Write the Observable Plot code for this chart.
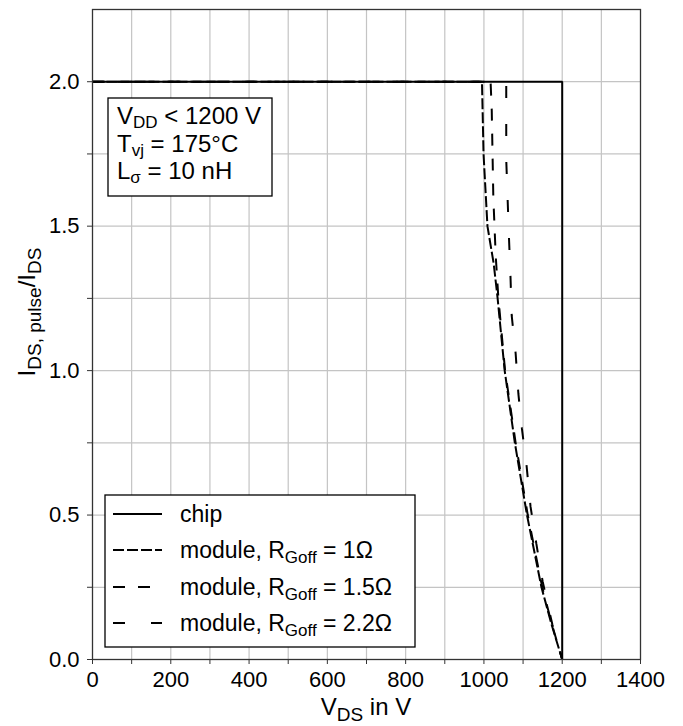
<!DOCTYPE html>
<html><head><meta charset="utf-8">
<script src="https://cdn.jsdelivr.net/npm/d3@7"></script>
<script src="https://cdn.jsdelivr.net/npm/@observablehq/plot@0.6"></script>
<style>
body{margin:0;background:#fff}
svg{font-family:"Liberation Sans",Arial,sans-serif}
</style>
</head><body><div id="chart"></div>
<script>
// ---- data ----
const chipV = [0, 1200, 1200];
const chipI = [2.0, 2.0, 0.0];

const r10V = [0, 995, 999, 1009, 1025, 1035, 1053, 1079, 1110, 1147, 1173, 1200];
const r10I = [2.0, 2.0, 1.75, 1.5, 1.37, 1.25, 1.0, 0.75, 0.5, 0.25, 0.12, 0.0];

const r15V = [0, 1017, 1020, 1022, 1024, 1030, 1037, 1054, 1081, 1112, 1149, 1174, 1200];
const r15I = [2.0, 2.0, 1.9, 1.75, 1.6, 1.4, 1.25, 1.0, 0.75, 0.5, 0.25, 0.12, 0.0];

const r22V = [0, 1057, 1057, 1064, 1068, 1071, 1081, 1088, 1097, 1109, 1119, 1134, 1150, 1175, 1200];
const r22I = [2.0, 2.0, 1.73, 1.46, 1.32, 1.19, 1.06, 0.92, 0.8, 0.67, 0.53, 0.4, 0.27, 0.12, 0.0];

const xMajorTicks = [0, 200, 400, 600, 800, 1000, 1200, 1400];
const xMinorTicks = [100, 300, 500, 700, 900, 1100, 1300];
const yMajorTicks = [0, 0.5, 1.0, 1.5, 2.0];
const yMinorTicks = [0.25, 0.75, 1.25, 1.75];
const xGrid = [100, 200, 300, 400, 500, 600, 700, 800, 900, 1000, 1100, 1200, 1300];
const yGrid = [0.25, 0.5, 0.75, 1.0, 1.25, 1.5, 1.75, 2.0];

const seriesKeys = ["chip", "r10", "r15", "r22"];
const legendLabels = {
  chip: ["chip", "", ""],
  r10: ["module, R", "Goff", " = 1Ω"],
  r15: ["module, R", "Goff", " = 1.5Ω"],
  r22: ["module, R", "Goff", " = 2.2Ω"]
};
const noteLines = [
  ["V", "DD", " < 1200 V"],
  ["T", "vj", " = 175°C"],
  ["L", "σ", " = 10 nH"]
];
const xLabel = ["V", "DS", " in V"];
const yLabel = ["I", "DS, pulse", "/I", "DS"];

// ---- styles ----
const dashes = {chip: null, r10: "11,3", r15: "12,13", r22: "12,26"};
const rows = (vs, is) => vs.map((v, k) => ({v, i: is[k]}));
const seriesData = {chip: rows(chipV, chipI), r10: rows(r10V, r10I), r15: rows(r15V, r15I), r22: rows(r22V, r22I)};

const W = 683, H = 726;
const gridStyle = {stroke: "#c4c4c4", strokeOpacity: 1, strokeWidth: 1.2};

const plot = Plot.plot({
  width: W, height: H,
  marginLeft: 92, marginRight: 43, marginTop: 9, marginBottom: 67,
  x: {domain: [0, 1400]},
  y: {domain: [0, 2.25]},
  style: {fontFamily: "Liberation Sans, Arial, sans-serif", fontSize: "22px", color: "#000", background: "#fff"},
  marks: [
    Plot.gridX(xGrid, gridStyle),
    Plot.gridY(yGrid, gridStyle),
    Plot.axisX(xMajorTicks, {tickSize: 5, tickPadding: 7, tickFormat: d => String(d), label: null, fontSize: 22, stroke: "#333"}),
    Plot.axisX(xMinorTicks, {tickSize: 5, tickFormat: () => "", label: null, stroke: "#333"}),
    Plot.axisY(yMajorTicks, {tickSize: 5, tickPadding: 8, tickFormat: d3.format(".1f"), label: null, fontSize: 22, stroke: "#333"}),
    Plot.axisY(yMinorTicks, {tickSize: 5, tickFormat: () => "", label: null, stroke: "#333"}),
    ...seriesKeys.map(k => Plot.line(seriesData[k], {
      x: "v", y: "i", stroke: "#000", strokeWidth: 2,
      strokeDasharray: dashes[k] || undefined, strokeLinejoin: "miter", strokeLinecap: "butt"
    })),
    Plot.frame({stroke: "#333", strokeWidth: 1.3})
  ]
});
document.getElementById("chart").append(plot);

const svg = d3.select(plot);
function subText(g, x, y, parts, size, subSize, shift, anchor, rotate) {
  const t = g.append("text").attr("x", x).attr("y", y)
    .attr("font-size", size).attr("fill", "#000").attr("text-anchor", anchor || "start");
  if (rotate) t.attr("transform", `rotate(-90 ${x} ${y})`);
  parts.forEach((p, idx) => {
    if (!p) return;
    const sub = idx % 2 === 1;
    const ts = t.append("tspan").text(p);
    if (sub) ts.attr("font-size", subSize).attr("dy", shift);
    else if (idx > 0) ts.attr("dy", -shift);
  });
  return t;
}
const over = svg.append("g");

// annotation box
over.append("rect").attr("x", 108).attr("y", 98).attr("width", 164).attr("height", 98)
  .attr("fill", "#fff").attr("stroke", "#000").attr("stroke-width", 1.3);
noteLines.forEach((ln, k) => subText(over, 117, [124, 152, 179][k], ln, 24, 17, 4));

// legend
over.append("rect").attr("x", 105).attr("y", 495).attr("width", 310).attr("height", 152)
  .attr("fill", "#fff").attr("stroke", "#000").attr("stroke-width", 1.3);
const legY = [514, 550, 587, 623];
seriesKeys.forEach((k, idx) => {
  const y = legY[idx];
  const ln = over.append("line").attr("x1", 113).attr("x2", 162).attr("y1", y).attr("y2", y)
    .attr("stroke", "#000").attr("stroke-width", 2);
  if (dashes[k]) ln.attr("stroke-dasharray", dashes[k]);
  subText(over, 180, y + 8, legendLabels[k], 23, 17, 5);
});

// axis labels
subText(over, 366, 715, xLabel, 24, 19, 6, "middle");
subText(over, 35, 312, yLabel, 24, 19, 6, "middle", true);
</script>
</body></html>
